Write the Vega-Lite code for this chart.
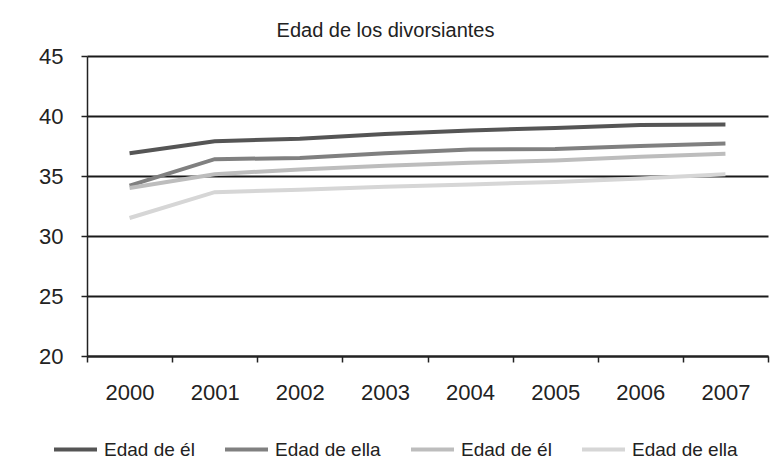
{
  "$schema": "https://vega.github.io/schema/vega-lite/v6.json",
  "width": 681,
  "height": 300,
  "autosize": {"type": "none"},
  "padding": {"left": 87, "top": 56, "right": 4, "bottom": 114},
  "background": "white",
  "title": {
    "text": "Edad de los divorsiantes",
    "font": "Liberation Sans",
    "fontSize": 20,
    "fontWeight": "normal",
    "color": "#222222",
    "anchor": "middle",
    "dx": -42,
    "offset": 4
  },
  "data": {
    "values": [
      {"year": "2000", "series": "a", "age": 36.9},
      {"year": "2001", "series": "a", "age": 37.9},
      {"year": "2002", "series": "a", "age": 38.1},
      {"year": "2003", "series": "a", "age": 38.5},
      {"year": "2004", "series": "a", "age": 38.8},
      {"year": "2005", "series": "a", "age": 39.0},
      {"year": "2006", "series": "a", "age": 39.25},
      {"year": "2007", "series": "a", "age": 39.3},
      {"year": "2000", "series": "b", "age": 34.2},
      {"year": "2001", "series": "b", "age": 36.4},
      {"year": "2002", "series": "b", "age": 36.5},
      {"year": "2003", "series": "b", "age": 36.9},
      {"year": "2004", "series": "b", "age": 37.2},
      {"year": "2005", "series": "b", "age": 37.25},
      {"year": "2006", "series": "b", "age": 37.5},
      {"year": "2007", "series": "b", "age": 37.7},
      {"year": "2000", "series": "c", "age": 34.0},
      {"year": "2001", "series": "c", "age": 35.15},
      {"year": "2002", "series": "c", "age": 35.55},
      {"year": "2003", "series": "c", "age": 35.85},
      {"year": "2004", "series": "c", "age": 36.1},
      {"year": "2005", "series": "c", "age": 36.3},
      {"year": "2006", "series": "c", "age": 36.6},
      {"year": "2007", "series": "c", "age": 36.85},
      {"year": "2000", "series": "d", "age": 31.5},
      {"year": "2001", "series": "d", "age": 33.65},
      {"year": "2002", "series": "d", "age": 33.85},
      {"year": "2003", "series": "d", "age": 34.1},
      {"year": "2004", "series": "d", "age": 34.3},
      {"year": "2005", "series": "d", "age": 34.5},
      {"year": "2006", "series": "d", "age": 34.8},
      {"year": "2007", "series": "d", "age": 35.15}
    ]
  },
  "mark": {"type": "line", "strokeWidth": 4, "strokeCap": "butt"},
  "encoding": {
    "x": {
      "field": "year",
      "type": "ordinal",
      "scale": {"type": "band", "paddingInner": 0, "paddingOuter": 0},
      "axis": {
        "title": null,
        "labelAngle": 0,
        "labelFont": "Liberation Sans",
        "labelFontSize": 22,
        "labelColor": "#222222",
        "labelPadding": 20,
        "tickBand": "extent",
        "tickSize": 6,
        "tickColor": "#222222",
        "tickWidth": 1.5,
        "domainColor": "#222222",
        "domainWidth": 2,
        "grid": false
      }
    },
    "y": {
      "field": "age",
      "type": "quantitative",
      "scale": {"domain": [20, 45], "nice": false, "zero": false},
      "axis": {
        "title": null,
        "values": [20, 25, 30, 35, 40, 45],
        "labelFont": "Liberation Sans",
        "labelFontSize": 22,
        "labelColor": "#222222",
        "labelPadding": 18,
        "tickSize": 6,
        "tickColor": "#222222",
        "tickWidth": 1.5,
        "domainColor": "#222222",
        "domainWidth": 1.5,
        "grid": true,
        "gridColor": "#1a1a1a",
        "gridWidth": 2,
        "gridOpacity": 1
      }
    },
    "color": {
      "field": "series",
      "type": "nominal",
      "scale": {
        "domain": ["a", "b", "c", "d"],
        "range": ["#555555", "#808080", "#bdbdbd", "#d6d6d6"]
      },
      "legend": {
        "title": null,
        "orient": "none",
        "legendX": -35,
        "legendY": 370,
        "direction": "horizontal",
        "columns": 4,
        "gridAlign": "none",
        "columnPadding": 22,
        "symbolType": "stroke",
        "symbolSize": 1849,
        "symbolStrokeWidth": 4,
        "labelOffset": 5,
        "labelFont": "Liberation Sans",
        "labelFontSize": 19,
        "labelColor": "#222222",
        "labelExpr": "datum.value == 'a' || datum.value == 'c' ? 'Edad de él' : 'Edad de ella'"
      }
    }
  },
  "config": {"view": {"stroke": null}}
}
